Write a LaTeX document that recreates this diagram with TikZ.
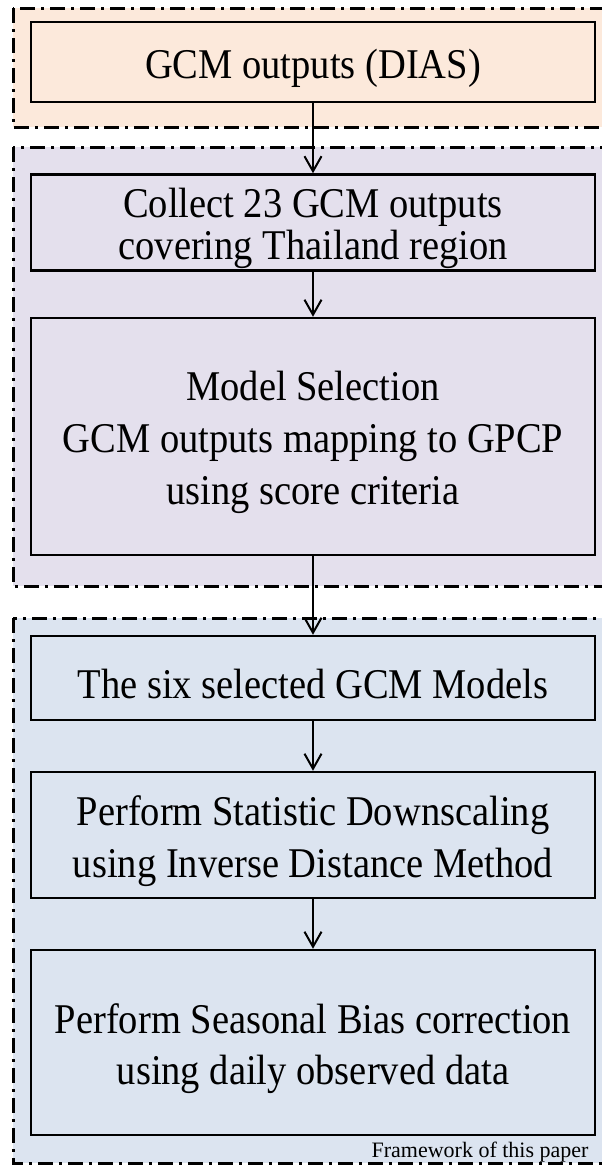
\documentclass[tikz,border=0pt]{standalone}
\usepackage{fontspec}
\usepackage{graphicx}
\setmainfont{Liberation Serif}
\usetikzlibrary{arrows.meta}

\definecolor{peach}{HTML}{FCE9DB}
\definecolor{lavender}{HTML}{E4E0ED}
\definecolor{paleblue}{HTML}{DCE4F0}

% slightly tall serif text, as in the scanned figure; lines split by \\
\newcommand{\stagetext}[2][47]{\raisebox{-6pt}[\height][\depth]{%
  \scalebox{1}[1.1]{\fontsize{38.5}{#1}\selectfont\lineskiplimit=-\maxdimen
  \vbox{\let\\\cr\halign{\hfil##\hfil\cr#2\cr}}}}}

\begin{document}
\begin{tikzpicture}[x=1pt,y=-1pt,
    stage/.style ={draw, line width=2.5pt, minimum width=564pt, inner sep=0pt},
    frame/.style ={line width=3pt, dash pattern=on 15pt off 6pt on 3pt off 6pt},
    flow/.style  ={line width=2pt, -{Straight Barb[length=15pt,width=17pt,line width=2pt]}}]
   \useasboundingbox (0,0) rectangle (602,1168);

   % dash-dot frames, cut at the right edge
   \begin{scope}
   \clip (0,0) rectangle (602,1168);
   \filldraw[frame,fill=peach]    (13,8)   rectangle (640,127);
   \filldraw[frame,fill=lavender] (13,147) rectangle (640,586);
   \filldraw[frame,fill=paleblue] (13,618) rectangle (640,1163);
   \end{scope}

   \node[stage,fill=peach,minimum height=80pt]     (dias)      at (313,62)     {\stagetext{GCM outputs (DIAS)}};
   \node[stage,fill=lavender,minimum height=96pt]  (collect)   at (313,222.5)  {\stagetext[38]{Collect 23 GCM outputs\\covering Thailand region}};
   \node[stage,fill=lavender,minimum height=237pt] (select)    at (313,436.5)  {\stagetext{Model Selection\\GCM outputs mapping to GPCP\\using score criteria}};
   \node[stage,fill=paleblue,minimum height=84pt]  (six)       at (313,678)    {\stagetext{The six selected GCM Models}};
   \node[stage,fill=paleblue,minimum height=126pt] (downscale) at (313,835)    {\stagetext{Perform Statistic Downscaling\\using Inverse Distance Method}};
   \node[stage,fill=paleblue,minimum height=185pt] (bias)      at (313,1042.5) {\stagetext{Perform Seasonal Bias correction\\using daily observed data}};
   \node[anchor=base east,font=\fontsize{22}{26}\selectfont] (caption) at (592,1157) {Framework of this paper};

   \draw[flow] (dias) to (collect);
   \draw[flow] (collect) to (select);
   \draw[flow] (select) to (six);
   \draw[flow] (six) to (downscale);
   \draw[flow] (downscale) to (bias);
\end{tikzpicture}
\end{document}
